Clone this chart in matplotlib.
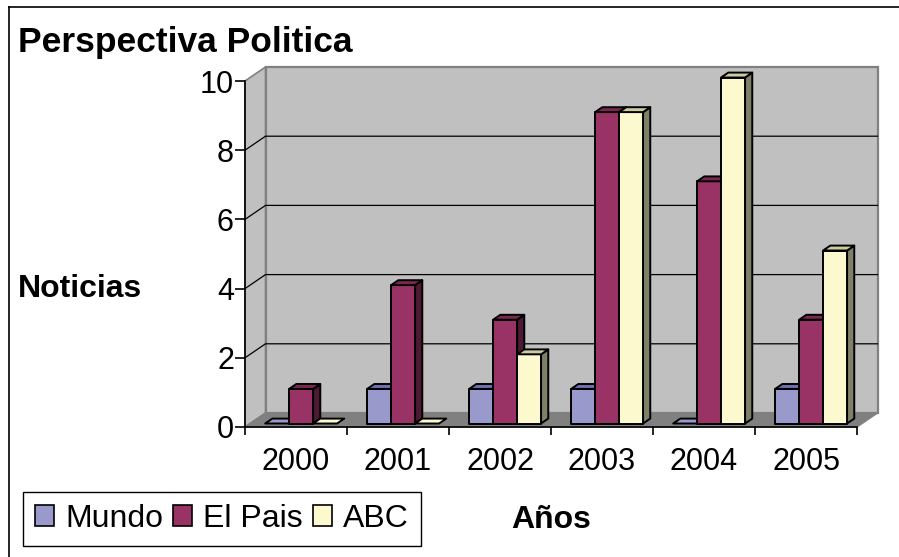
import matplotlib
matplotlib.use("Agg")
import matplotlib.pyplot as plt
from matplotlib.patches import Polygon, Patch
from matplotlib.lines import Line2D

plt.rcParams['font.family'] = ['Liberation Sans', 'DejaVu Sans']

# ---- data ----
years = ["2000", "2001", "2002", "2003", "2004", "2005"]
series_names = ["Mundo", "El Pais", "ABC"]
mundo = [0, 1, 1, 1, 0, 1]
el_pais = [1, 4, 3, 9, 7, 3]
abc = [0, 0, 2, 9, 10, 5]
y_ticks = [0, 2, 4, 6, 8, 10]

series = [mundo, el_pais, abc]
front_colors = ["#9999CC", "#993366", "#FCF9CF"]
top_colors = ["#7070B0", "#7A2850", "#CCCCA0"]
side_colors = ["#5A5A8C", "#4C1A33", "#80806A"]

W, H = 899, 557
fig = plt.figure(figsize=(W / 100, H / 100), dpi=100)
fig.patch.set_facecolor("white")

x0_px, x1_px, y0_px, y1_px = 245, 857, 427, 81
ax = fig.add_axes([x0_px / W, (H - y0_px) / H, (x1_px - x0_px) / W, (y0_px - y1_px) / H])
ax.set_xlim(0, len(years))
ax.set_ylim(0, 10)
ax.patch.set_visible(False)

# depth in data units (3D offset)
DX = 20.5 / ((x1_px - x0_px) / len(years))
DY = 14.0 / ((y0_px - y1_px) / 10.0)
n = len(years)

# back wall
ax.add_patch(Polygon([(DX, DY), (n + DX, DY), (n + DX, 10 + DY), (DX, 10 + DY)],
                     closed=True, facecolor="#C0C0C0", edgecolor="#808080", lw=1.6,
                     zorder=1, clip_on=False))
# side wall
ax.add_patch(Polygon([(0, 0), (DX, DY), (DX, 10 + DY), (0, 10)], closed=True,
                     facecolor="#C0C0C0", edgecolor="#808080", lw=1.2, zorder=1, clip_on=False))
# floor
ax.add_patch(Polygon([(0, 0), (n, 0), (n + DX, DY), (DX, DY)], closed=True,
                     facecolor="#808080", edgecolor="#808080", lw=1.0, zorder=1.5, clip_on=False))
# gridlines
for v in y_ticks[1:-1]:
    ax.plot([0, DX, n + DX], [v, v + DY, v + DY], color="black", lw=0.9, zorder=2,
            clip_on=False)

# bars
bw = 0.235
z0, z1 = 0.25, 0.60
dd = z1 - z0
k = 10
for i in range(n):
    for j, vals in enumerate(series):
        v = vals[i]
        xl = i + (1 - 3 * bw) / 2 + j * bw + z0 * DX
        xr = xl + bw
        b = z0 * DY
        t = v + z0 * DY
        ex, ey = dd * DX, dd * DY
        if v > 0:
            ax.add_patch(Polygon([(xr, b), (xr, t), (xr + ex, t + ey), (xr + ex, b + ey)],
                                 closed=True, facecolor=side_colors[j], edgecolor="black",
                                 lw=1.4, zorder=k, clip_on=False, joinstyle="round"))
            ax.add_patch(Polygon([(xl, b), (xr, b), (xr, t), (xl, t)], closed=True,
                                 facecolor=front_colors[j], edgecolor="black", lw=1.4,
                                 zorder=k + 1, clip_on=False, joinstyle="round"))
        ax.add_patch(Polygon([(xl, t), (xr, t), (xr + ex, t + ey), (xl + ex, t + ey)],
                             closed=True, facecolor=top_colors[j] if v > 0 else front_colors[j],
                             edgecolor="black", lw=1.4, zorder=k + 2, clip_on=False,
                             joinstyle="round"))
        k += 3

# axes styling
for s in ["top", "right"]:
    ax.spines[s].set_visible(False)
ax.spines["left"].set_color("black")
ax.spines["bottom"].set_color("black")
ax.spines["left"].set_linewidth(1.2)
ax.spines["bottom"].set_linewidth(1.2)
ax.spines["left"].set_zorder(5)
ax.spines["bottom"].set_zorder(5)

ax.set_yticks(y_ticks)
ax.set_yticklabels([str(t) for t in y_ticks], fontsize=22)
ax.tick_params(axis="y", direction="out", length=7, width=1.2, pad=1)
ax.set_xticks(range(n + 1))
ax.set_xticklabels([""] * (n + 1))
ax.tick_params(axis="x", which="major", direction="out", length=6, width=1.2)
ax.set_xticks([i + 0.5 for i in range(n)], minor=True)
ax.set_xticklabels(years, minor=True, fontsize=22)
ax.tick_params(axis="x", which="minor", length=0, pad=14.5)

# texts
fig.text(18 / W, 1 - 52 / H, "Perspectiva Politica", fontsize=25.5, fontweight="bold",
         ha="left", va="baseline")
fig.text(18 / W, 1 - 297 / H, "Noticias", fontsize=23, fontweight="bold",
         ha="left", va="baseline")
fig.text(551 / W, 1 - 528 / H, "Años", fontsize=23, fontweight="bold",
         ha="center", va="baseline")

# legend
handles = [Patch(facecolor=c, edgecolor="black", lw=1.2) for c in front_colors]
leg = fig.legend(handles, series_names, loc="lower left",
                 bbox_to_anchor=(23 / W, 1 - 546 / H), ncol=3, fontsize=23,
                 frameon=True, fancybox=False, edgecolor="black", framealpha=1,
                 handlelength=0.6, handleheight=0.6, handletextpad=0.35,
                 columnspacing=0.3, borderpad=0.38, borderaxespad=0)
leg.get_frame().set_linewidth(1.0)

# outer frame
fig.add_artist(Line2D([9 / W, 9 / W], [0, 1 - 7 / H], color="black", lw=1.2,
                      transform=fig.transFigure))
fig.add_artist(Line2D([9 / W, 1], [1 - 7 / H, 1 - 7 / H], color="black", lw=1.2,
                      transform=fig.transFigure))

fig.savefig("out.png", dpi=100)
